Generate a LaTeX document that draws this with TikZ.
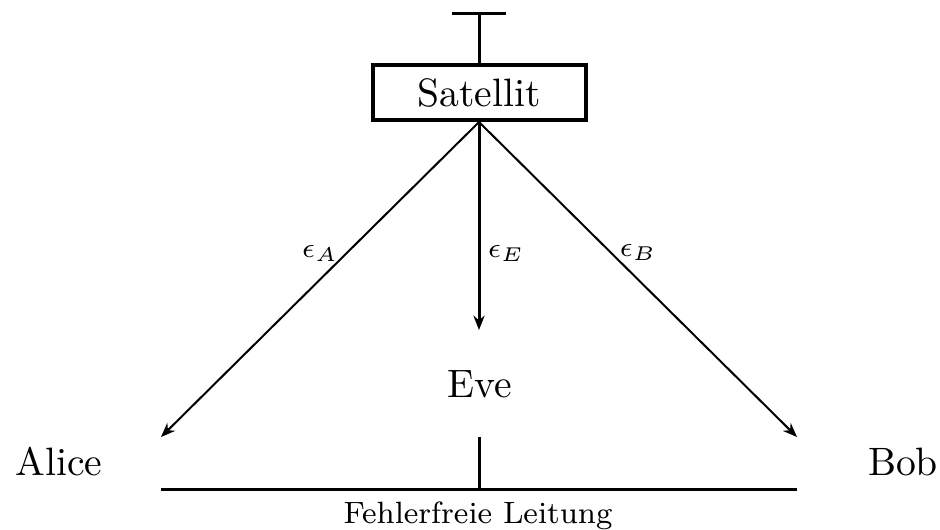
\documentclass[tikz,border=0pt]{standalone}
\usepackage{fontspec}
\usetikzlibrary{arrows.meta}
\begin{document}
\begin{tikzpicture}[x=0.25pt,y=-0.25pt,
  thinline/.style={line width=0.5pt},
  midline/.style={line width=0.75pt},
  arr/.style={-{Stealth[length=3.6pt,width=2.8pt]}},
  bigtext/.style={font=\fontsize{9.9}{12}\selectfont, inner sep=0pt},
  smalltext/.style={font=\fontsize{7.7}{9}\selectfont, inner sep=0pt},
  lbl/.style={font=\fontsize{7.2}{9}\selectfont, inner sep=0pt}]
\useasboundingbox (0,0) rectangle (940,529);
% satellite box
\node[draw, line width=1pt, minimum width=53.25pt, minimum height=13.75pt, inner sep=0pt,
      font=\fontsize{9.9}{12}\selectfont] (sat) at (479,92.5) {Satellit};
% antenna
\coordinate (antL) at (452,13);
\coordinate (antR) at (506,13);
\coordinate (antT) at (479,13);
\draw[midline] (antL) -- (antR);
\draw[midline] (antT) -- (sat.north);
% arrow tips
\coordinate (tipA) at (161,437);
\coordinate (tipB) at (797,437);
\coordinate (tipE) at (479,330);
\draw[thinline, arr] (sat.south) -- (tipA);
\draw[thinline, arr] (sat.south) -- (tipB);
\draw[midline, arr] (sat.south) -- (tipE);
% labels
\node[lbl] (epsA) at (320,253) {$\epsilon_A$};
\node[lbl] (epsE) at (506,253) {$\epsilon_E$};
\node[lbl] (epsB) at (638,252) {$\epsilon_B$};
% parties
\node[bigtext] (eve) at (480,384) {Eve};
\node[bigtext] (alice) at (59,462) {Alice};
\node[bigtext] (bob) at (903,462) {Bob};
% channel
\coordinate (lineL) at (161,489);
\coordinate (lineR) at (797,489);
\coordinate (tickT) at (479,437);
\coordinate (tickB) at (479,489);
\draw[midline] (lineL) -- (lineR);
\draw[midline] (tickT) -- (tickB);
\node[smalltext, anchor=base] (chan) at (478,523) {Fehlerfreie Leitung};
\end{tikzpicture}
\end{document}
